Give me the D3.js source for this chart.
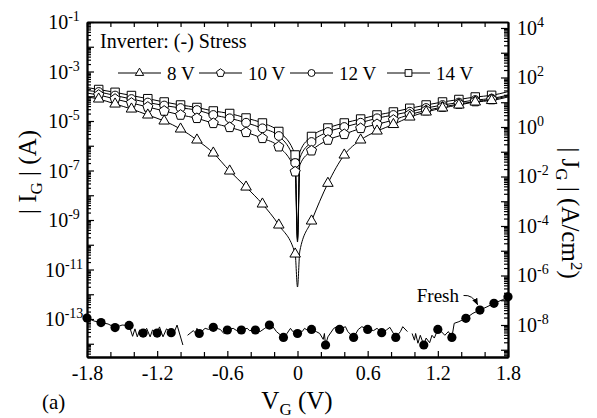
<!DOCTYPE html>
<html>
<head>
<meta charset="utf-8">
<script src="https://cdn.jsdelivr.net/npm/d3@7"></script>
<style>
  body { margin: 0; background: #fff; }
  svg { font-family: "Liberation Serif", "Times New Roman", serif; }
  .axis path, .axis line { stroke: #000; }
  .axis text { font-family: "Liberation Serif", serif; }
</style>
</head>
<body>
<div id="chart"></div>
<script>
// chart size
const W = 597, H = 418;
const margin = {left: 87, right: 89, top: 22, bottom: 61};
const pw = W - margin.left - margin.right;
const ph = H - margin.top - margin.bottom;

// bias points of the stressed curves (V)
const biasV = [-1.8, -1.70, -1.56, -1.42, -1.28, -1.14, -1.00, -0.86, -0.72, -0.58, -0.44, -0.30, -0.16, -0.02,
  0, 0.02, 0.12, 0.26, 0.40, 0.54, 0.68, 0.82, 0.96, 1.10, 1.24, 1.38, 1.52, 1.66, 1.8];
// where the symbols sit
const markerV = [-1.70, -1.56, -1.42, -1.28, -1.14, -1.00, -0.86, -0.72, -0.58, -0.44, -0.30, -0.16, -0.02,
  0.12, 0.26, 0.40, 0.54, 0.68, 0.82, 0.96, 1.10, 1.24, 1.38, 1.52, 1.66];

// |IG| (A) after stress
const ig8V = [9.33e-5, 7.74e-5, 4.86e-5, 3.05e-5, 1.75e-5, 1.00e-5, 4.75e-6, 1.71e-6, 5.09e-7, 9.55e-8, 2.15e-8, 4.43e-9, 6.28e-10, 4.23e-11,
  1.96e-12, 5.58e-11, 9.12e-10, 3.04e-8, 4.23e-7, 1.71e-6, 3.94e-6, 7.22e-6, 1.45e-5, 2.31e-5, 3.35e-5, 4.43e-5, 5.86e-5, 6.73e-5, 9.33e-5];
const ig10V = [1.35e-4, 1.12e-4, 7.74e-5, 5.33e-5, 3.68e-5, 2.54e-5, 1.75e-5, 1.29e-5, 8.07e-6, 5.56e-6, 3.49e-6, 2.00e-6, 9.16e-7, 8.95e-8,
  1.29e-10, 1.67e-7, 6.31e-7, 1.71e-6, 2.90e-6, 5.07e-6, 7.36e-6, 1.10e-5, 1.83e-5, 2.65e-5, 3.68e-5, 4.86e-5, 6.14e-5, 7.39e-5, 1.02e-4];
const ig12V = [1.71e-4, 1.49e-4, 1.07e-4, 7.74e-5, 5.58e-5, 4.23e-5, 3.35e-5, 2.78e-5, 1.75e-5, 1.29e-5, 8.53e-6, 5.07e-6, 2.48e-6, 2.01e-7,
  1.56e-10, 3.20e-7, 1.42e-6, 3.60e-6, 5.73e-6, 8.53e-6, 1.29e-5, 1.75e-5, 2.38e-5, 3.35e-5, 4.43e-5, 5.58e-5, 7.05e-5, 8.11e-5, 1.12e-4];
const ig14V = [2.26e-4, 1.87e-4, 1.44e-4, 1.07e-4, 7.96e-5, 5.86e-5, 4.43e-5, 3.51e-5, 2.54e-5, 2.01e-5, 1.32e-5, 8.30e-6, 3.77e-6, 4.23e-7,
  1.87e-10, 5.59e-7, 2.37e-6, 5.21e-6, 8.30e-6, 1.20e-5, 1.75e-5, 2.31e-5, 3.26e-5, 4.43e-5, 5.86e-5, 7.39e-5, 9.33e-5, 1.09e-4, 1.53e-4];

// fresh device, null = missing point
const freshV = [-1.80, -1.74, -1.68, -1.62, -1.56, -1.50, -1.44, -1.41, -1.39, -1.37, -1.35, -1.32, -1.29, -1.26, -1.24, -1.20,
  -1.18, -1.15, -1.12, -1.08, -1.05, -1.03, -0.98, -0.96,
  -0.94, -0.89, -0.87, -0.86, -0.84, -0.79, -0.76, -0.72, -0.66, -0.63, -0.60, -0.55, -0.52, -0.48, -0.43, -0.41, -0.36,
  -0.32, -0.28, -0.24, -0.21, -0.18, -0.12, -0.09, -0.06, -0.04, 0.00, 0.04, 0.06, 0.09, 0.12, 0.16, 0.19, 0.22, 0.23, 0.24,
  0.26, 0.31, 0.34, 0.36, 0.41, 0.43, 0.48, 0.52, 0.55, 0.60, 0.65, 0.68, 0.72, 0.76, 0.79, 0.84, 0.88, 0.90, 0.94, 0.96,
  0.98, 1.00, 1.01, 1.03, 1.05, 1.08, 1.10, 1.13, 1.15, 1.17, 1.20, 1.23, 1.26, 1.29, 1.32, 1.34, 1.38, 1.44, 1.50, 1.56,
  1.62, 1.68, 1.75, 1.80];
const freshI = [1.1e-13, 8.3e-14, 7.2e-14, 6.3e-14, 4.5e-14, 5.7e-14, 5.5e-14, 2.0e-14, 4.0e-14, 1.9e-14, 3.6e-14, 2.7e-14, 4.2e-14, 1.9e-14, 3.6e-14, 2.7e-14,
  4.8e-14, 1.9e-14, 4.0e-14, 2.8e-14, 3.3e-14, 5.7e-14, 8.9e-15, null,
  2.2e-14, 3.4e-14, 2.6e-14, 4.2e-14, 2.6e-14, 4.2e-14, 3.8e-14, 4.6e-14, 3.8e-14, 2.6e-14, 3.6e-14, 4.2e-14, 3.4e-14, 3.6e-14, 4.2e-14, 3.4e-14, 3.6e-14,
  3.1e-14, 4.2e-14, 5.7e-14, 4.9e-14, 3.1e-14, 1.8e-14, 2.6e-14, 4.2e-14, 3.1e-14, 2.6e-14, 3.1e-14, 4.2e-14, 3.4e-14, 3.8e-14, 3.1e-14, 2.6e-14, 1.5e-14, 2.6e-14, 8.9e-15,
  1.9e-14, 4.2e-14, 4.9e-14, 3.8e-14, 4.9e-14, 3.1e-14, 1.8e-14, 3.8e-14, 4.9e-14, 3.8e-14, 3.4e-14, 4.2e-14, 2.8e-14, 3.6e-14, 4.6e-14, 1.8e-14, 3.1e-14, 4.9e-14, 3.1e-14, null,
  2.6e-14, 1.4e-14, 2.6e-14, 1.05e-14, 2.2e-14, 8.9e-15, 1.7e-14, 1.1e-14, 2.2e-14, 1.7e-14, 3.8e-14, 3.1e-14, 2.2e-14, 3.1e-14, 1.8e-14, 6.7e-14, 7.8e-14, 1.07e-13, 1.7e-13, 2.3e-13,
  3.1e-13, 4.3e-13, 5.9e-13, 7.9e-13];
const freshMarkV = [-1.80, -1.68, -1.56, -1.44, -1.32, -1.20, -1.08, -0.84, -0.72, -0.60, -0.48, -0.36, -0.24, -0.12,
  0.00, 0.12, 0.24, 0.36, 0.48, 0.60, 0.72, 0.84, 1.08, 1.20, 1.32, 1.44, 1.56, 1.68, 1.80];

// axis ticks and labels
const xMajor = [-1.8, -1.2, -0.6, 0, 0.6, 1.2, 1.8];
const xMinor = [-1.6, -1.4, -1.0, -0.8, -0.4, -0.2, 0.2, 0.4, 0.8, 1.0, 1.4, 1.6];
const igLabelExp = [-1, -3, -5, -7, -9, -11, -13];
const jgLabelExp = [4, 2, 0, -2, -4, -6, -8];
const legendNames = ["8 V", "10 V", "12 V", "14 V"];

let svg = d3.select("#chart")
    .append("svg")
    .attr("width", W)
    .attr("height", H);

let g = svg.append("g")
    .attr("transform", `translate(${margin.left}, ${margin.top})`);

// scales
let x = d3.scaleLinear().domain([-1.8, 1.8]).range([0, pw]);
let y = d3.scaleLog().domain([Math.pow(10, -14.535), 1e-1]).range([ph, 0]);
let yJ = d3.scaleLog().domain([Math.pow(10, -9.293), Math.pow(10, 4.242)]).range([ph, 0]);

// ticks on all four sides, pointing inward
function styleAxis(sel, w) {
    sel.attr("class", "axis");
    sel.select(".domain").attr("stroke-width", w);
    sel.selectAll(".tick line").attr("stroke-width", 1.2);
}
let allLog = y.ticks(30);
let igMajor = allLog.filter(d => Math.abs(Math.log10(d) - Math.round(Math.log10(d))) < 1e-6);
let igMinor = allLog.filter(d => igMajor.indexOf(d) < 0);
let jAll = yJ.ticks(30);
let jgMajor = jAll.filter(d => Math.abs(Math.log10(d) - Math.round(Math.log10(d))) < 1e-6);
let jgMinor = jAll.filter(d => jgMajor.indexOf(d) < 0);

g.append("g").call(d3.axisLeft(y).tickValues(igMinor).tickSize(-4).tickSizeOuter(0).tickFormat(""))
    .call(styleAxis, 1.8);
g.append("g").call(d3.axisLeft(y).tickValues(igMajor).tickSize(-7).tickSizeOuter(0).tickFormat(""))
    .call(styleAxis, 1.8);
g.append("g").attr("transform", `translate(${pw}, 0)`)
    .call(d3.axisRight(yJ).tickValues(jgMinor).tickSize(-4).tickSizeOuter(0).tickFormat(""))
    .call(styleAxis, 1.8);
g.append("g").attr("transform", `translate(${pw}, 0)`)
    .call(d3.axisRight(yJ).tickValues(jgMajor).tickSize(-7).tickSizeOuter(0).tickFormat(""))
    .call(styleAxis, 1.8);
g.append("g")
    .call(d3.axisTop(x).tickValues(xMajor.concat(xMinor)).tickSize(-5).tickSizeOuter(0).tickFormat(""))
    .call(styleAxis, 1.8);
g.append("g").attr("transform", `translate(0, ${ph})`)
    .call(d3.axisBottom(x).tickValues(xMinor).tickSize(-5).tickSizeOuter(0).tickFormat(""))
    .call(styleAxis, 1.8);
let xAxis = g.append("g").attr("transform", `translate(0, ${ph})`)
    .call(d3.axisBottom(x).tickValues(xMajor).tickSize(-6).tickSizeOuter(0).tickPadding(9)
        .tickFormat(d => d === 0 ? "0" : d.toFixed(1)))
    .call(styleAxis, 1.8);
xAxis.selectAll("text").style("font-size", "20px").attr("fill", "#000");

// power-of-ten labels
function powLabel(sel, exp) {
    sel.append("tspan").text("10");
    sel.append("tspan").attr("dy", -8).style("font-size", "14px").text(exp);
}
igLabelExp.forEach(function(e) {
    g.append("text")
        .attr("x", -23).attr("y", y(Math.pow(10, e)) + 7)
        .style("text-anchor", "middle").style("font-size", "20px")
        .call(powLabel, e);
});
jgLabelExp.forEach(function(e) {
    g.append("text")
        .attr("x", pw + 9).attr("y", yJ(Math.pow(10, e)) + 7)
        .style("text-anchor", "start").style("font-size", "20px")
        .call(powLabel, e);
});

// symbols
function pentagon(r) {
    let pts = d3.range(5).map(i => {
        let a = -Math.PI / 2 + i * 2 * Math.PI / 5;
        return [r * Math.cos(a), r * Math.sin(a)];
    });
    return "M" + pts.join("L") + "Z";
}
const symbolPaths = [
    d3.symbol(d3.symbolTriangle, 48)(),
    pentagon(5.3),
    d3.symbol(d3.symbolCircle, 60)(),
    d3.symbol(d3.symbolSquare, 72)()
];
const stressSeries = [ig8V, ig10V, ig12V, ig14V];

let line = d3.line()
    .x(d => x(d[0]))
    .y(d => y(d[1]))
    .curve(d3.curveMonotoneX);

for (let s = stressSeries.length - 1; s >= 0; s--) {
    let pts = biasV.map((v, i) => [v, stressSeries[s][i]]);
    g.append("path")
        .attr("d", line(pts))
        .attr("fill", "none")
        .attr("stroke", "#000")
        .attr("stroke-width", 1);
}
for (let s = stressSeries.length - 1; s >= 0; s--) {
    let pts = biasV.map((v, i) => [v, stressSeries[s][i]])
        .filter(p => markerV.some(m => Math.abs(m - p[0]) < 1e-6));
    g.selectAll(null).data(pts).enter()
        .append("path")
        .attr("d", symbolPaths[s])
        .attr("transform", d => `translate(${x(d[0])}, ${y(d[1])})`)
        .attr("fill", "#fff")
        .attr("stroke", "#000")
        .attr("stroke-width", 1);
}

// fresh curve
let freshPts = freshV.map((v, i) => [v, freshI[i]]);
g.append("path")
    .attr("d", d3.line().defined(d => d[1] != null).x(d => x(d[0])).y(d => y(d[1]))(freshPts))
    .attr("fill", "none")
    .attr("stroke", "#000")
    .attr("stroke-width", 1);
let freshMarks = freshPts.filter(p => p[1] != null && freshMarkV.some(m => Math.abs(m - p[0]) < 1e-6));
g.selectAll(null).data(freshMarks).enter()
    .append("circle")
    .attr("cx", d => x(d[0]))
    .attr("cy", d => y(d[1]))
    .attr("r", 4.6)
    .attr("fill", "#000");

// "Fresh" note with arrow
svg.append("defs").append("marker")
    .attr("id", "arrow")
    .attr("viewBox", "0 0 10 10")
    .attr("refX", 9).attr("refY", 5)
    .attr("markerWidth", 7).attr("markerHeight", 7)
    .attr("orient", "auto")
    .append("path").attr("d", "M0,1L10,5L0,9Z").attr("fill", "#000");
g.append("text")
    .attr("x", x(1.02)).attr("y", y(Math.pow(10, -12.3)))
    .style("font-size", "19px")
    .text("Fresh");
let a0 = [x(1.42), y(Math.pow(10, -12.05))], a1 = [x(1.54), y(Math.pow(10, -12.42))];
g.append("path")
    .attr("d", `M${a0[0]},${a0[1]}Q${a0[0] + 9},${a0[1] - 1} ${a1[0]},${a1[1]}`)
    .attr("fill", "none")
    .attr("stroke", "#000")
    .attr("stroke-width", 1)
    .attr("marker-end", "url(#arrow)");

// title inside the frame
g.append("text")
    .attr("x", 13).attr("y", 26)
    .style("font-size", "20px")
    .text("Inverter: (-) Stress");

// legend row
let legendX = [31, 112, 203, 300];
legendNames.forEach(function(name, i) {
    let lg = g.append("g").attr("transform", `translate(${legendX[i]}, 51)`);
    lg.append("line").attr("x1", 0).attr("x2", 43).attr("y1", 0).attr("y2", 0)
        .attr("stroke", "#000").attr("stroke-width", 1);
    lg.append("path").attr("d", symbolPaths[i]).attr("transform", "translate(21.5, 0) scale(0.8)")
        .attr("fill", "#fff").attr("stroke", "#000").attr("stroke-width", 1.2);
    lg.append("text").attr("x", 49).attr("y", 7).style("font-size", "19px").text(name);
});

// axis titles
let ylab = svg.append("text")
    .attr("transform", `translate(36, 172) rotate(-90)`)
    .style("text-anchor", "middle")
    .style("font-size", "25px");
ylab.append("tspan").text("| I");
ylab.append("tspan").attr("dy", 6).style("font-size", "17px").text("G");
ylab.append("tspan").attr("dy", -6).text(" | (A)");

let jlab = svg.append("text")
    .attr("transform", `translate(562, 213) rotate(90)`)
    .style("text-anchor", "middle")
    .style("font-size", "25px");
jlab.append("tspan").text("| J");
jlab.append("tspan").attr("dy", 6).style("font-size", "17px").text("G");
jlab.append("tspan").attr("dy", -6).text(" | (A/cm");
jlab.append("tspan").attr("dy", -9).style("font-size", "17px").text("2");
jlab.append("tspan").attr("dy", 9).text(")");

let xlab = svg.append("text")
    .attr("x", 297).attr("y", 409)
    .style("text-anchor", "middle")
    .style("font-size", "25px");
xlab.append("tspan").text("V");
xlab.append("tspan").attr("dy", 6).style("font-size", "17px").text("G");
xlab.append("tspan").attr("dy", -6).text(" (V)");

svg.append("text")
    .attr("x", 42).attr("y", 409)
    .style("font-size", "21px")
    .text("(a)");
</script>
</body>
</html>
